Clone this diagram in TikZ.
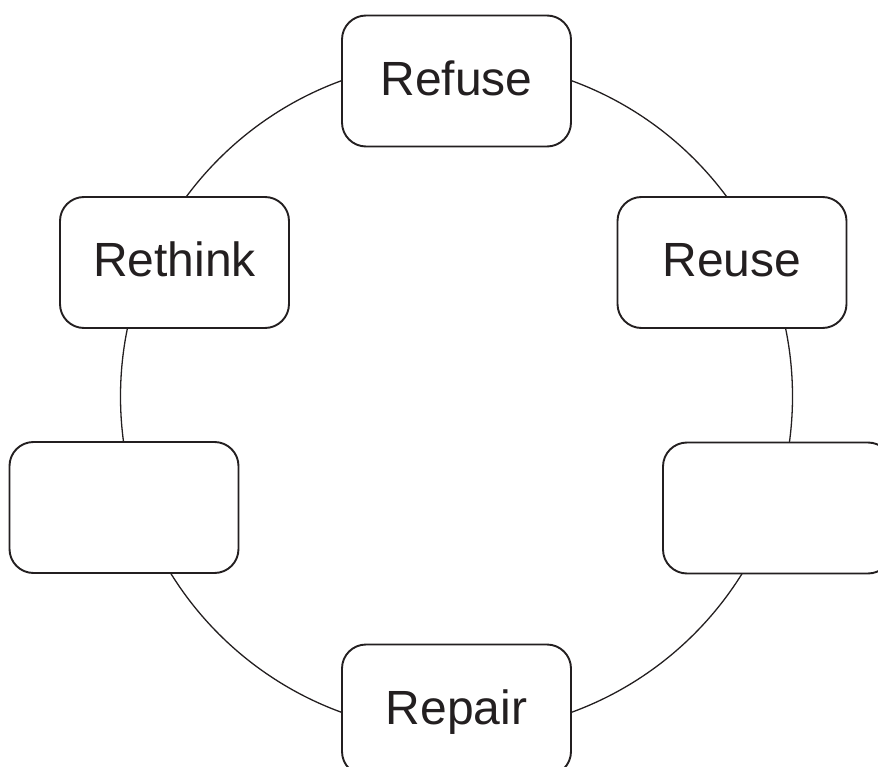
\documentclass[tikz,border=0pt]{standalone}
\usepackage{fontspec}
\setmainfont{Liberation Sans}
\definecolor{ink}{HTML}{231F20}
\begin{document}
\begin{tikzpicture}[x=1pt,y=-1pt,
  stagebox/.style={draw=ink, line width=1.9pt, fill=white, rounded corners=24pt,
    minimum width=229pt, minimum height=131pt, inner sep=0pt,
    text height=35pt, text depth=6pt, font=\fontsize{48}{56}\selectfont, text=ink}]
\useasboundingbox (0,0) rectangle (878,767);
\draw[ink, line width=1.3pt] (456.5,396.5) circle[radius=336];
\node[stagebox] (refuse)  at (456.5,81)  {Refuse};
\node[stagebox] (rethink) at (174.5,262.5) {Rethink};
\node[stagebox] (reuse)   at (732,262.5) {Reuse};
\node[stagebox] (left)    at (124,507.5) {};
\node[stagebox] (right)   at (777.5,508) {};
\node[stagebox] (repair)  at (456.5,710) {Repair};
\end{tikzpicture}
\end{document}
